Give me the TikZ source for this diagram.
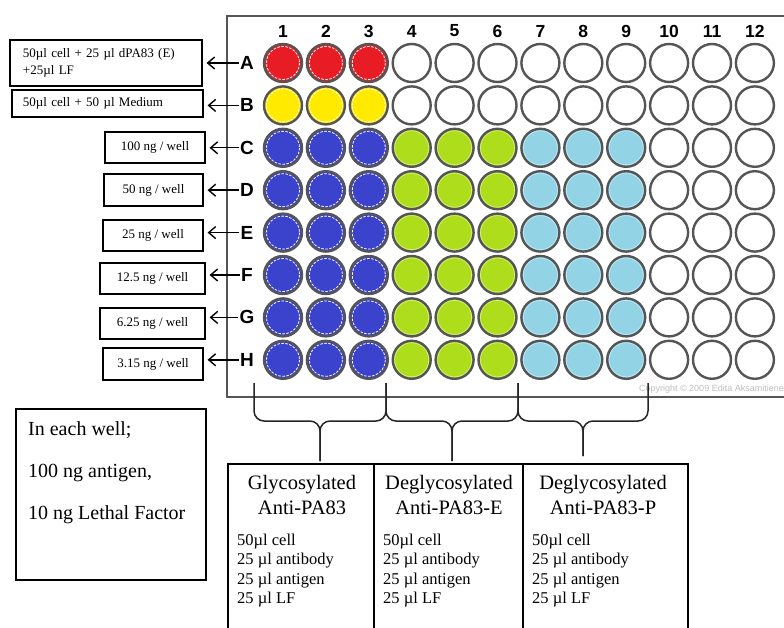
\documentclass[tikz,border=0pt]{standalone}
\usepackage{fontspec}
\setmainfont{Liberation Serif}
\setsansfont{Liberation Sans}
\usetikzlibrary{arrows.meta}
\definecolor{wred}{HTML}{E81C24}
\definecolor{wyellow}{HTML}{FFEA00}
\definecolor{wblue}{HTML}{3B42CC}
\definecolor{wgreen}{HTML}{AEDD1C}
\definecolor{wcyan}{HTML}{92D3E6}
\definecolor{rimgray}{HTML}{555555}
\begin{document}
\begin{tikzpicture}[x=1pt,y=-1pt,
  well/.style={circle,draw=rimgray,line width=2.4pt,minimum size=38pt,inner sep=0pt},
  dring/.style={white,line width=0.8pt,dash pattern=on 2.5pt off 1.5pt},
  fring/.style={white,opacity=0.45,line width=0.7pt},
  rowlbl/.style={font=\fontsize{19}{19}\sffamily\bfseries\selectfont,inner sep=1pt},
  collbl/.style={font=\fontsize{17.5}{18}\sffamily\bfseries\selectfont,inner sep=1pt},
  lbl/.style={draw,line width=1.2pt,inner sep=0pt,font=\fontsize{13}{17}\selectfont},
  rarrow/.style={-{Straight Barb[length=7pt,width=12pt]},line width=1.4pt,shorten >=4pt},
  pbrace/.style={line width=1.5pt,rounded corners=10pt,black!85},
  grpbox/.style={draw,line width=1.5pt,minimum height=190pt,anchor=north west,inner sep=0pt},
  grphead/.style={align=center,font=\fontsize{20.5}{25}\selectfont},
  grplist/.style={align=left,anchor=north west,inner sep=0pt,font=\fontsize{16.5}{19.3}\selectfont}]
\clip (0,0) rectangle (784,628);
\fill[white] (0,0) rectangle (784,628);
% plate
\draw[line width=2pt,rimgray] (227,16) rectangle (800,397);
\foreach \c in {1,...,12}
  \node[collbl] (col\c) at ({283+42.9*(\c-1)},31) {\c};
\foreach \r/\i/\ca/\cb/\cc in {A/0/wred/white/white,B/1/wyellow/white/white,
    C/2/wblue/wgreen/wcyan,D/3/wblue/wgreen/wcyan,E/4/wblue/wgreen/wcyan,
    F/5/wblue/wgreen/wcyan,G/6/wblue/wgreen/wcyan,H/7/wblue/wgreen/wcyan} {
  \node[rowlbl] (row\r) at (247,{63+42.4*\i}) {\r};
  \foreach \c in {1,...,12} {
    \ifnum\c<4 \def\wfill{\ca}\else\ifnum\c<7 \def\wfill{\cb}\else\ifnum\c<10 \def\wfill{\cc}\else\def\wfill{white}\fi\fi\fi
    \node[well,fill=\wfill] (w\r\c) at ({283+42.9*(\c-1)},{63+42.4*\i}) {};
    \ifnum\c<4 \draw[dring] (w\r\c.center) circle[radius=16.5];\fi
    \ifnum\i>1 \ifnum\c>3 \ifnum\c<10 \draw[fring] (w\r\c.center) circle[radius=17];\fi\fi\fi
  }
}
\node[anchor=east,inner sep=0pt,text=black!25,font=\fontsize{9}{10}\sffamily\selectfont] (copyr) at (784,389) {Copyright © 2009 Edita Aksamitiene};
% row descriptions
\node[lbl,minimum width=192pt,minimum height=46pt,text width=166pt,inner xsep=13pt,align=left] (lblA) at (106,63) {50µl cell + 25 µl dPA83 (E)\\+25µl LF};
\node[lbl,minimum width=191pt,minimum height=27pt,text width=169pt,inner xsep=11pt,align=left] (lblB) at (107.5,103.5) {50µl cell + 50 µl Medium};
\node[lbl,minimum width=100pt,minimum height=31pt] (lblC) at (155,147.5) {100 ng / well};
\node[lbl,minimum width=99pt,minimum height=32pt] (lblD) at (153.5,190) {50 ng / well};
\node[lbl,minimum width=100pt,minimum height=31pt] (lblE) at (153,235.5) {25 ng / well};
\node[lbl,minimum width=105pt,minimum height=31pt] (lblF) at (152.5,278.5) {12.5 ng / well};
\node[lbl,minimum width=105pt,minimum height=31pt] (lblG) at (152.5,323.5) {6.25 ng / well};
\node[lbl,minimum width=100pt,minimum height=32pt] (lblH) at (153,364) {3.15 ng / well};
\foreach \r in {A,B,C,D,E,F,G,H}
  \draw[rarrow] (row\r.west) -- (row\r.west -| lbl\r.east);
% braces
\foreach \xa/\xm/\xb/\yt in {254/320/386/461,386/452/518/461,518/583/648/456} {
  \draw[pbrace] (\xa,383) -- (\xa,421) -- (\xm,421) -- (\xm,\yt);
  \draw[pbrace] (\xb,383) -- (\xb,421) -- (\xm,421) -- (\xm,\yt);
}
% antibody groups
\node[grpbox,minimum width=146pt] (grpG) at (227,463) {};
\node[grpbox,minimum width=149pt] (grpE) at (373,463) {};
\node[grpbox,minimum width=165pt] (grpP) at (522,463) {};
\node[grphead] (headG) at (302,495) {Glycosylated\\Anti-PA83};
\node[grphead] (headE) at (449,495) {Deglycosylated\\Anti-PA83-E};
\node[grphead] (headP) at (603,495) {Deglycosylated\\Anti-PA83-P};
\node[grplist] (listG) at (237,534) {50µl cell\\25 µl antibody\\25 µl antigen\\25 µl LF};
\node[grplist] (listE) at (383,534) {50µl cell\\25 µl antibody\\25 µl antigen\\25 µl LF};
\node[grplist] (listP) at (532,534) {50µl cell\\25 µl antibody\\25 µl antigen\\25 µl LF};
% note
\node[draw,line width=1.5pt,minimum width=190pt,minimum height=171pt,inner sep=0pt] (note) at (111,494.5) {};
\node[anchor=north west,inner sep=0pt,align=left,font=\fontsize{20}{42}\selectfont] (notetext) at (28,421) {In each well;\\100 ng antigen,\\10 ng Lethal Factor};
\end{tikzpicture}
\end{document}
